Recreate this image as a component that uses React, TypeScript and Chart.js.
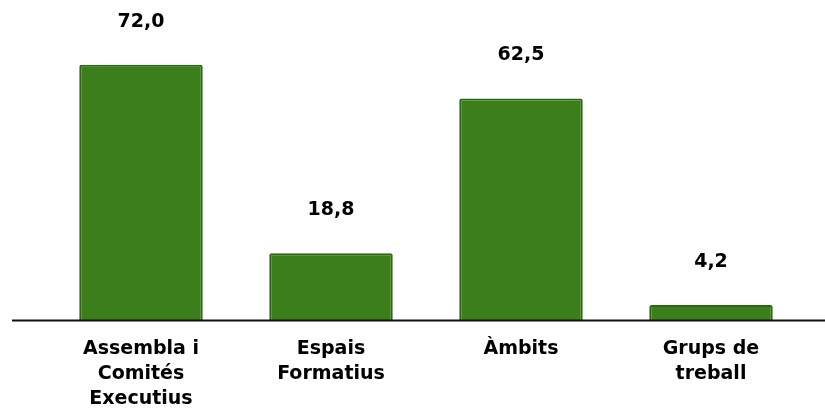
import React, { useEffect, useRef } from "react";
import { Chart, registerables } from "chart.js";
Chart.register(...registerables);

const categories: string[][] = [
  ["Assembla i", "Comités", "Executius"],
  ["Espais", "Formatius"],
  ["Àmbits"],
  ["Grups de", "treball"],
];
const values: number[] = [72.0, 18.8, 62.5, 4.2];
const valueLabels: string[] = ["72,0", "18,8", "62,5", "4,2"];

const FONT = "'DejaVu Sans', Verdana, sans-serif";

const valueLabelPlugin = {
  id: "valueLabels",
  afterDatasetsDraw(chart: any) {
    const ctx = chart.ctx;
    const meta = chart.getDatasetMeta(0);
    ctx.save();
    ctx.font = `bold 19px ${FONT}`;
    ctx.fillStyle = "#000";
    ctx.textAlign = "center";
    ctx.textBaseline = "middle";
    meta.data.forEach((bar: any, i: number) => {
      ctx.fillText(valueLabels[i], bar.x, bar.y - 43);
    });
    ctx.restore();
  },
};

const axisLinePlugin = {
  id: "axisLine",
  afterDatasetsDraw(chart: any) {
    const ctx = chart.ctx;
    const y = chart.scales.y.getPixelForValue(0);
    ctx.save();
    ctx.strokeStyle = "#111";
    ctx.lineWidth = 2;
    ctx.beginPath();
    ctx.moveTo(12, y + 0.5);
    ctx.lineTo(chart.width, y + 0.5);
    ctx.stroke();
    ctx.restore();
  },
};

export default function App() {
  const ref = useRef<HTMLCanvasElement | null>(null);
  useEffect(() => {
    document.body.style.margin = "0";
    const chart = new Chart(ref.current as HTMLCanvasElement, {
      type: "bar",
      data: {
        labels: categories,
        datasets: [
          {
            data: values,
            backgroundColor: "#3C7D1C",
            borderColor: "#2F6615",
            borderWidth: 2,
            borderRadius: 2,
            borderSkipped: "bottom",
            categoryPercentage: 1,
            barPercentage: 0.65,
          },
        ],
      },
      options: {
        animation: false,
        responsive: false,
        maintainAspectRatio: false,
        layout: { padding: { left: 46, right: 19, top: 1, bottom: 0 } },
        plugins: { legend: { display: false }, tooltip: { enabled: false } },
        scales: {
          y: { display: false, min: 0, max: 90 },
          x: {
            grid: { display: false, drawTicks: false },
            border: { display: false },
            ticks: {
              color: "#000",
              padding: 17,
              maxRotation: 0,
              autoSkip: false,
              font: { family: FONT, size: 19, weight: "bold", lineHeight: "25px" },
            },
            afterFit(scale: any) {
              scale.height = 92;
            },
          },
        },
      },
      plugins: [valueLabelPlugin, axisLinePlugin],
    });
    return () => chart.destroy();
  }, []);
  return (
    <div style={{ width: 825, height: 412 }}>
      <canvas ref={ref} width={825} height={412} style={{ display: "block" }} />
    </div>
  );
}
